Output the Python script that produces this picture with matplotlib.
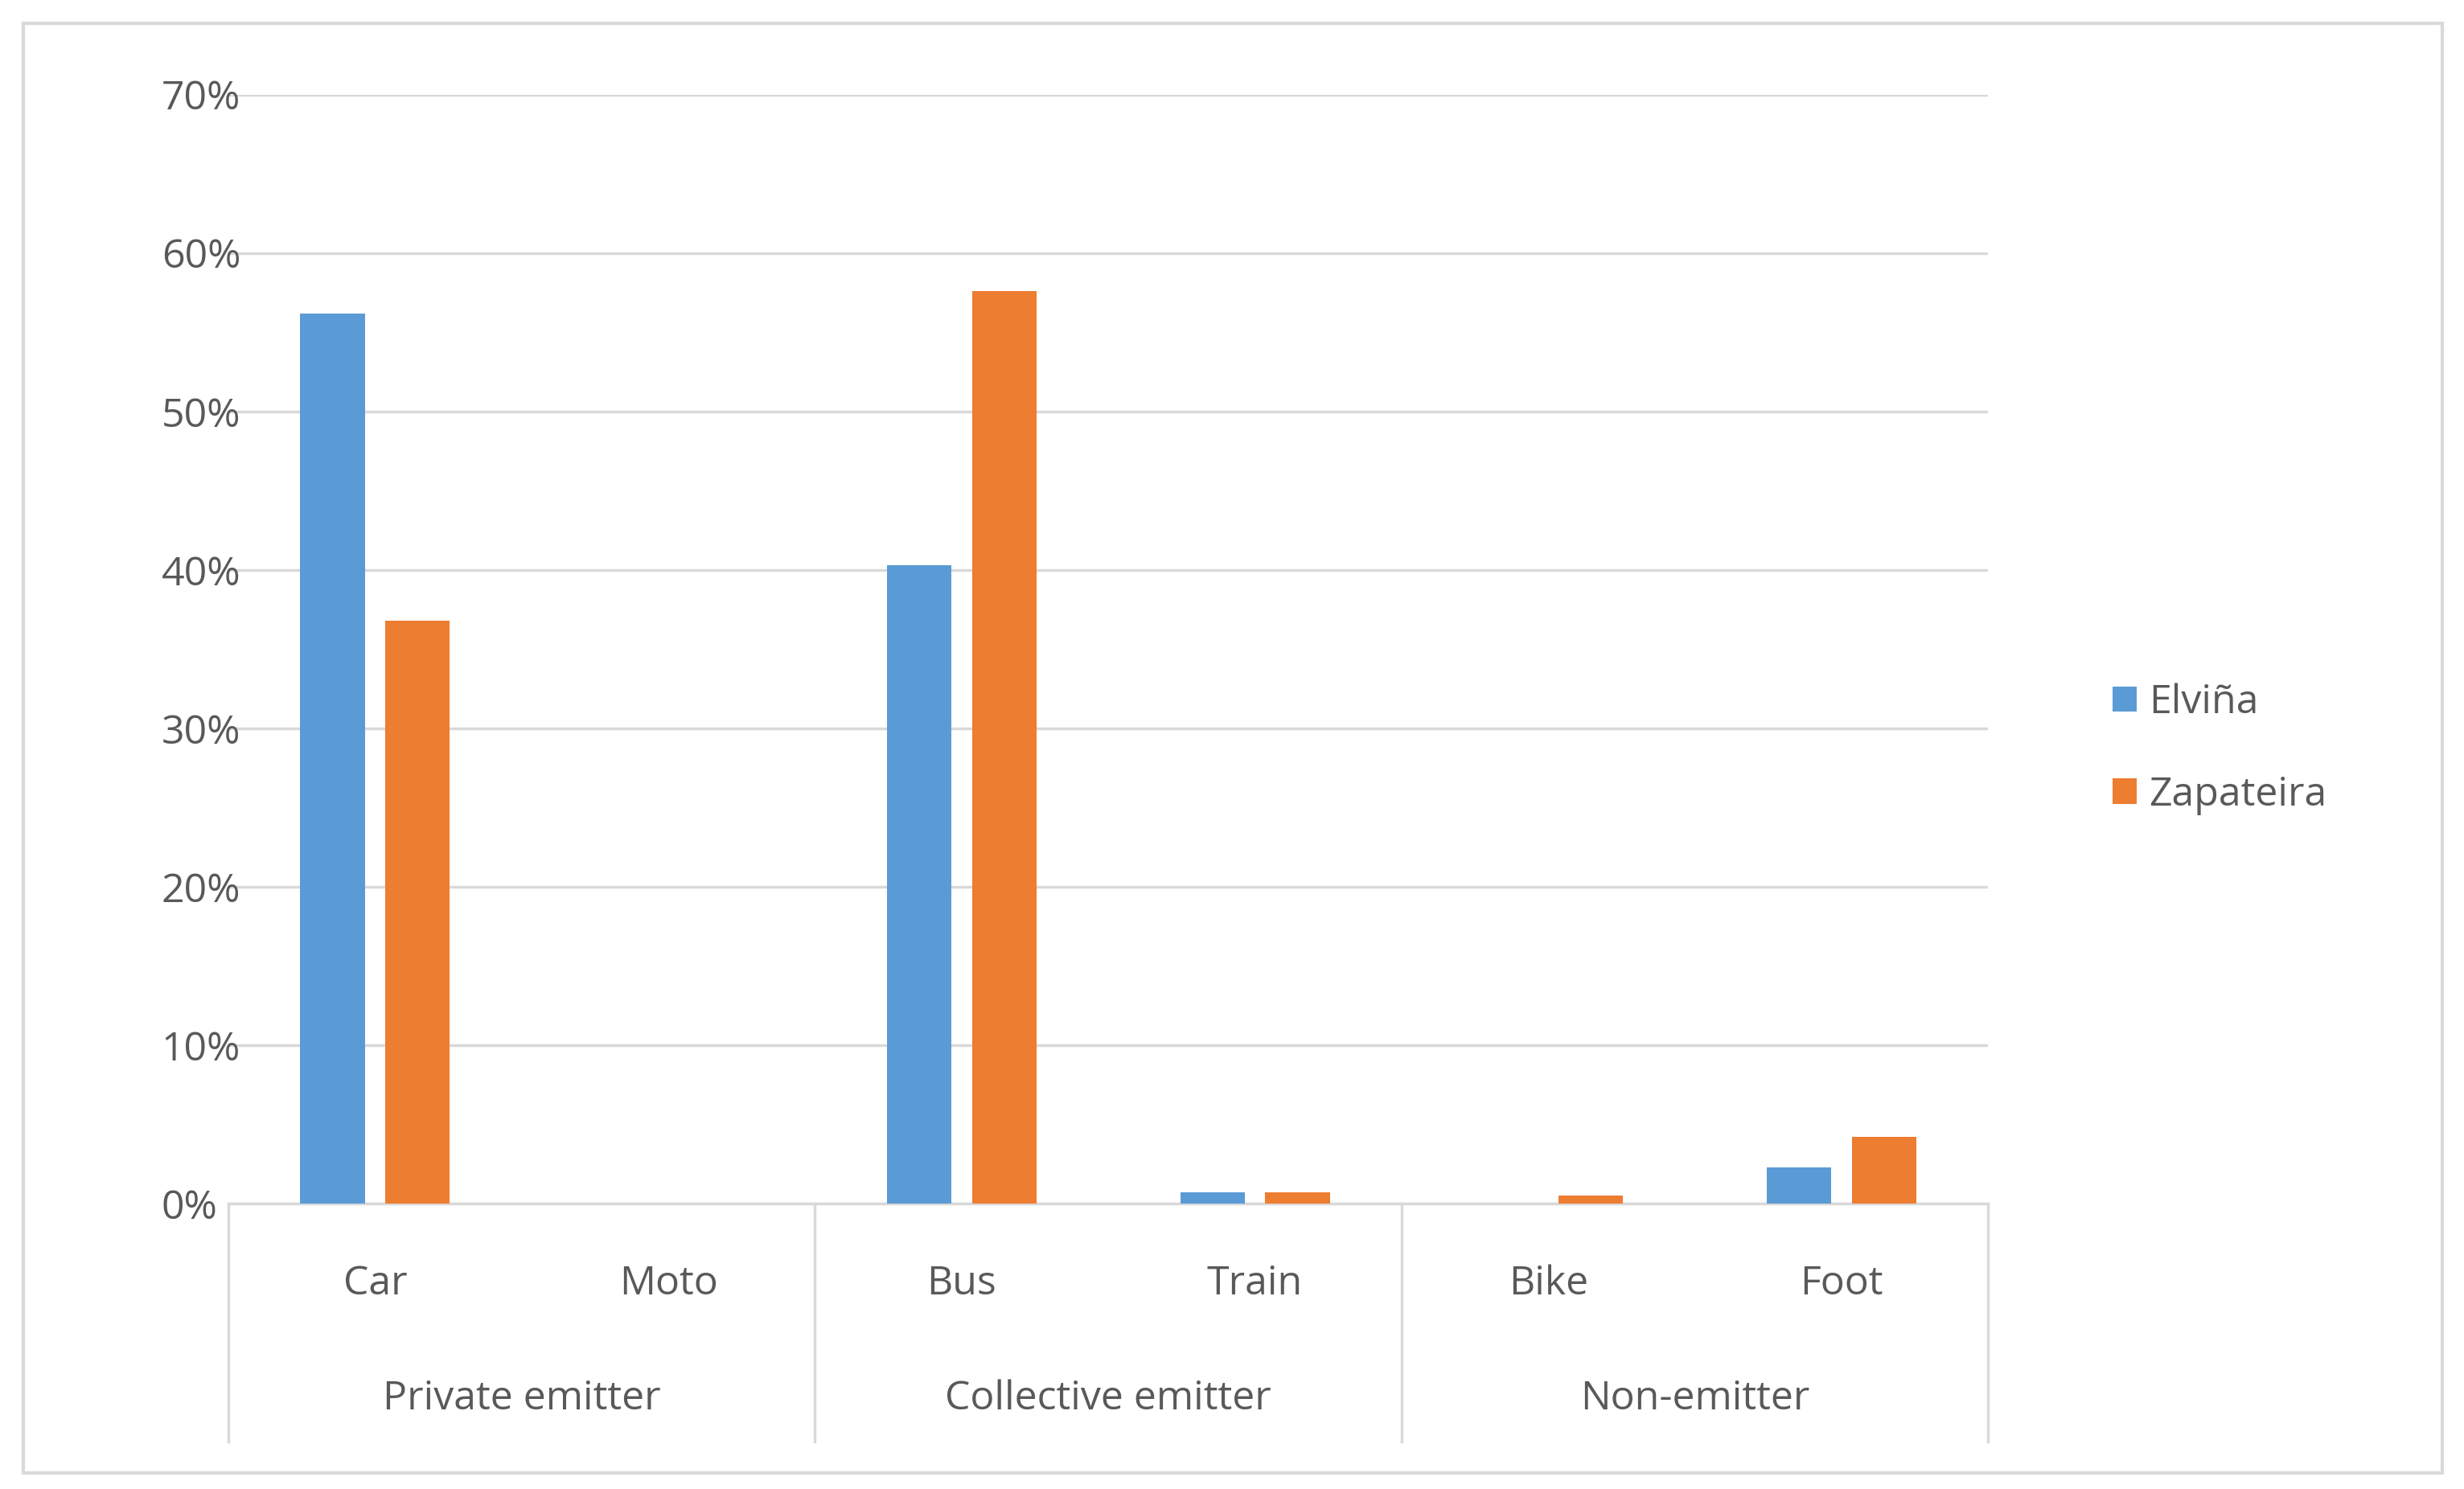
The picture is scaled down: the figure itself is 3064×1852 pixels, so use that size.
import matplotlib
matplotlib.use("Agg")
import matplotlib.pyplot as plt
from matplotlib.patches import Rectangle
import numpy as np

plt.rcParams['font.family'] = ['Open Sans', 'DejaVu Sans']

categories = ["Car", "Moto", "Bus", "Train", "Bike", "Foot"]
groups = ["Private emitter", "Collective emitter", "Non-emitter"]
elvina = [56.2, 0, 40.3, 0.7, 0, 2.3]
zapateira = [36.8, 0, 57.6, 0.7, 0.5, 4.2]
yticks = [0, 10, 20, 30, 40, 50, 60, 70]

W, H = 1564, 945
FS = 36
fig = plt.figure(figsize=(30.64, 18.52), dpi=100)
fig.patches.append(Rectangle((15/W, 1-935/H), 1535/W, 920/H, transform=fig.transFigure,
                             fill=False, edgecolor="#D9D9D9", lw=3))
ax = fig.add_axes([145/W, 1-764/H, (1262-145)/W, (764-60)/H])
x = np.arange(len(categories))
bw = 0.22
ax.bar(x - 0.145, elvina, bw, color="#5B9BD5", label="Elviña", zorder=3)
ax.bar(x + 0.145, zapateira, bw, color="#ED7D31", label="Zapateira", zorder=3)
ax.set_xlim(-0.5, 5.5)
ax.set_ylim(0, 70)
ax.set_yticks(yticks)
ax.set_yticklabels([f"{v}%" for v in yticks], fontsize=FS, color="#595959")
ax.yaxis.grid(True, color="#D9D9D9", lw=2.5, zorder=0)
for s in ["top", "right", "left"]:
    ax.spines[s].set_visible(False)
ax.spines["bottom"].set_color("#D9D9D9")
ax.spines["bottom"].set_linewidth(2.5)
ax.tick_params(axis="y", length=0, pad=60)
for lbl in ax.get_yticklabels():
    lbl.set_horizontalalignment("left")
ax.set_xticks([])
trans = ax.get_xaxis_transform()
for i, c in enumerate(categories):
    ax.text(i, -(815-764)/704, c, transform=trans, ha="center", va="center",
            fontsize=FS, color="#595959")
for g, name in enumerate(groups):
    ax.text(2*g + 0.5, -(888-764)/704, name, transform=trans, ha="center", va="center",
            fontsize=FS, color="#595959")
for xb in [-0.5, 1.5, 3.5, 5.5]:
    ax.plot([xb, xb], [0, -(915-764)/704], transform=trans, color="#D9D9D9", lw=2.5,
            clip_on=False)
ax.legend(loc="center left", bbox_to_anchor=(1.05, 0.41), frameon=False, fontsize=FS,
          labelcolor="#595959", handlelength=0.6, handleheight=0.6, labelspacing=1.3,
          handletextpad=0.3)
fig.savefig("out.png", dpi=100)
